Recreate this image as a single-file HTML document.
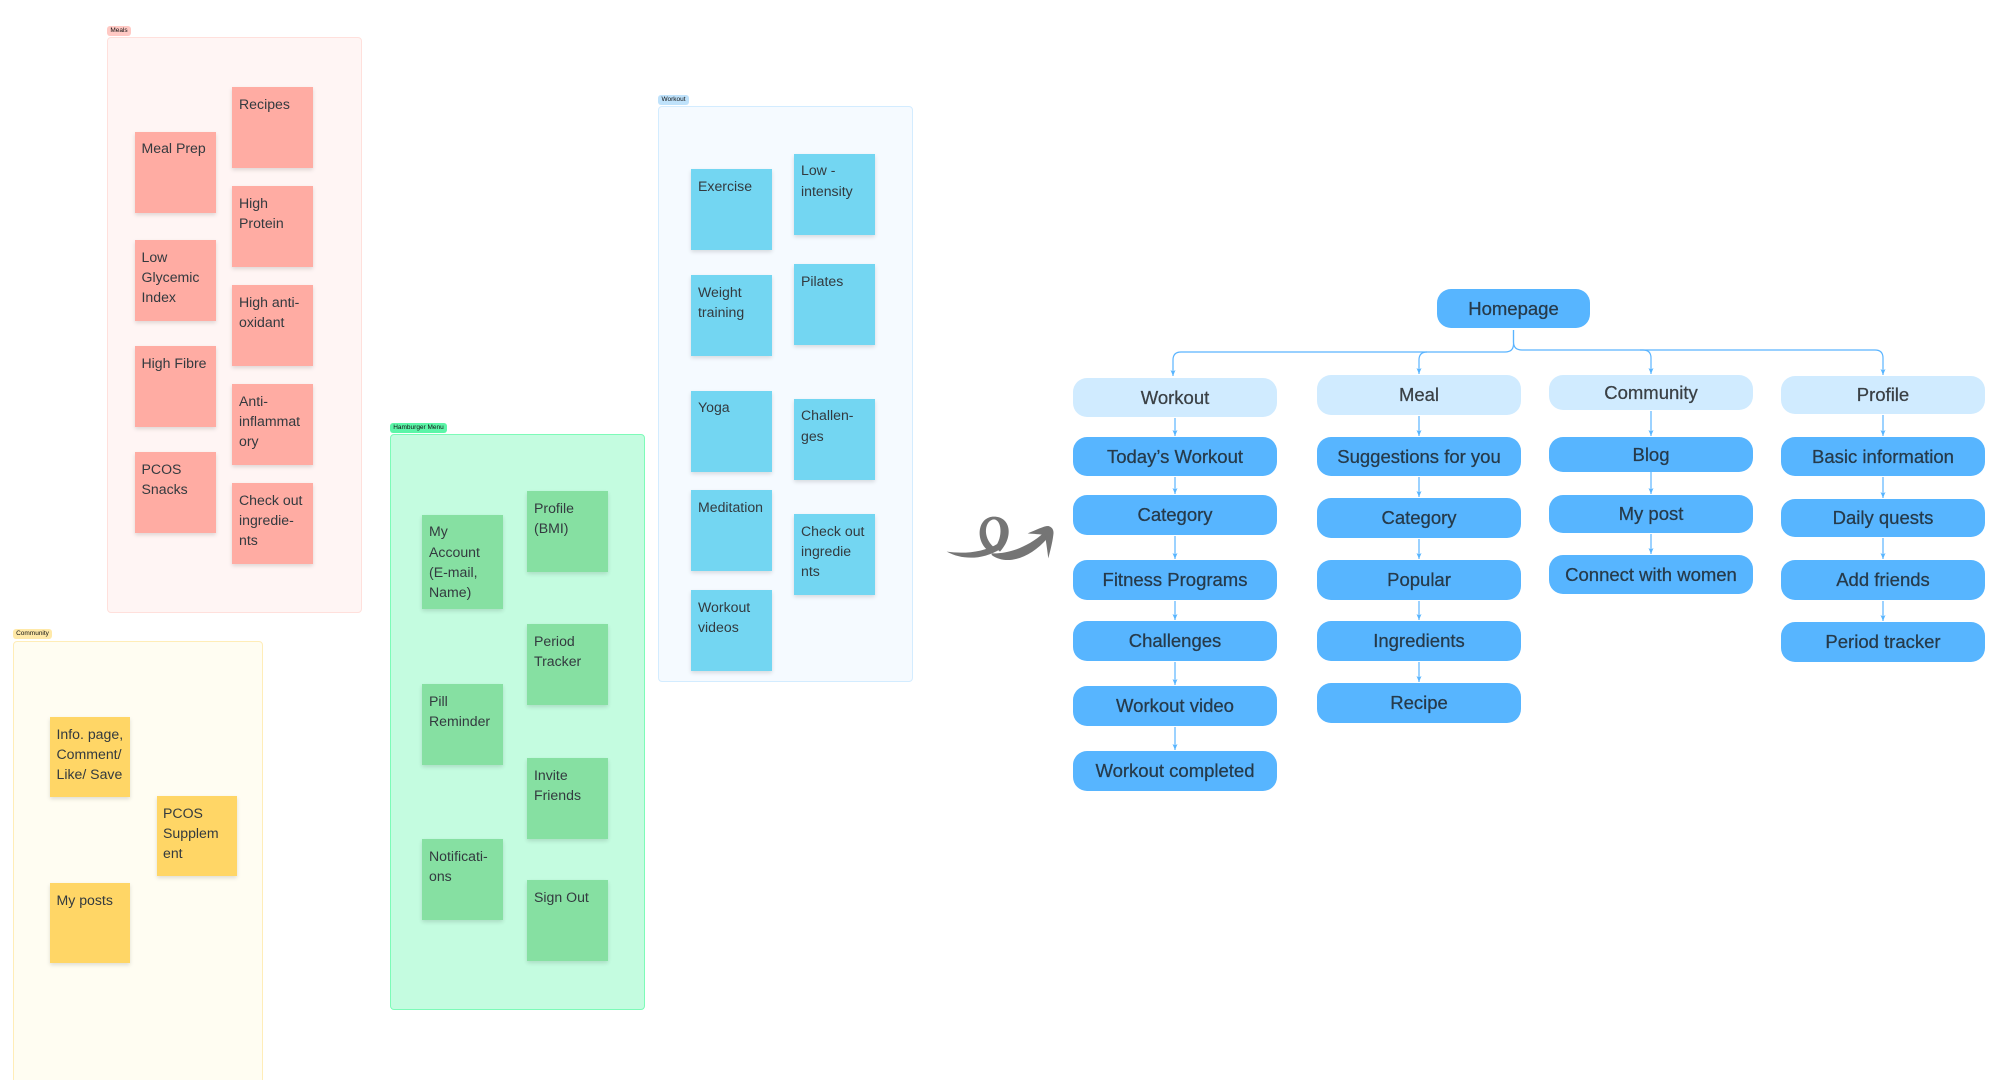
<!DOCTYPE html>
<html>
<head>
<meta charset="utf-8">
<style>
html,body{margin:0;padding:0;background:#fff;}
#p{position:relative;width:2000px;height:1080px;overflow:hidden;background:#fff;font-family:"Liberation Sans",sans-serif;}
.f{position:absolute;box-sizing:border-box;border-radius:4px;border-width:1.5px;border-style:solid;}
.l{position:absolute;font-size:6.5px;line-height:10px;height:10px;border-radius:3px;text-align:center;color:#111;}
.s{position:absolute;box-sizing:border-box;width:81px;height:81px;padding:6.6px 7px;font-size:14.1px;line-height:20.4px;color:#333a3f;box-shadow:0 2px 4px rgba(0,0,0,.13);white-space:pre;}
.r{background:#ffaca3}.y{background:#ffd666;width:80px;height:80px;padding:6.6px 6.5px}.g{background:#86e0a2}.b{background:#73d6f2}
.n{position:absolute;box-sizing:border-box;width:204px;border-radius:14px;background:#57b5ff;color:#263a4a;font-size:18.5px;text-align:center;display:flex;align-items:center;justify-content:center;-webkit-text-stroke:.25px #263a4a;}
.h{background:#d0ebff;color:#3a4045;-webkit-text-stroke:.25px #3a4045;}
svg{position:absolute;left:0;top:0;}
</style>
</head>
<body>
<div id="p">
<div class="f" style="left:107px;top:37px;width:255px;height:576px;background:#fff5f4;border-color:#ffe0dc"></div>
<div class="l" style="left:107px;top:26px;width:24px;background:#ffc9c4">Meals</div>
<div class="s r" style="left:232px;top:87px">Recipes</div>
<div class="s r" style="left:134.5px;top:131.5px">Meal Prep</div>
<div class="s r" style="left:232px;top:186px">High
Protein</div>
<div class="s r" style="left:134.5px;top:240px">Low
Glycemic
Index</div>
<div class="s r" style="left:232px;top:285px">High anti-
oxidant</div>
<div class="s r" style="left:134.5px;top:346px">High Fibre</div>
<div class="s r" style="left:232px;top:384px">Anti-
inflammat
ory</div>
<div class="s r" style="left:134.5px;top:452px">PCOS
Snacks</div>
<div class="s r" style="left:232px;top:483px">Check out
ingredie-
nts</div>

<div class="f" style="left:13px;top:641px;width:250px;height:460px;background:#fffdf2;border-color:#ffedb8"></div>
<div class="l" style="left:13px;top:629px;width:39px;background:#ffe9a8">Community</div>
<div class="s y" style="left:50px;top:717px">Info. page,
Comment/
Like/ Save</div>
<div class="s y" style="left:156.5px;top:796px">PCOS
Supplem
ent</div>
<div class="s y" style="left:50px;top:883px">My posts</div>

<div class="f" style="left:390px;top:434px;width:255px;height:576px;background:#c4fce0;border-color:#7dfbb8"></div>
<div class="l" style="left:390px;top:423px;width:57px;background:#5cf5a8">Hamburger Menu</div>
<div class="s g" style="left:422px;top:514.5px;height:94px">My
Account
(E-mail,
Name)</div>
<div class="s g" style="left:527px;top:491px">Profile
(BMI)</div>
<div class="s g" style="left:527px;top:624px">Period
Tracker</div>
<div class="s g" style="left:422px;top:684px">Pill
Reminder</div>
<div class="s g" style="left:527px;top:758px">Invite
Friends</div>
<div class="s g" style="left:422px;top:839px">Notificati-
ons</div>
<div class="s g" style="left:527px;top:880px">Sign Out</div>

<div class="f" style="left:658px;top:106px;width:255px;height:576px;background:#f5faff;border-color:#d3ecff"></div>
<div class="l" style="left:658px;top:95px;width:31px;background:#bfe2fb">Workout</div>
<div class="s b" style="left:691px;top:169px">Exercise</div>
<div class="s b" style="left:794px;top:153.5px">Low -
intensity</div>
<div class="s b" style="left:691px;top:275px">Weight
training</div>
<div class="s b" style="left:794px;top:264px">Pilates</div>
<div class="s b" style="left:691px;top:390.5px">Yoga</div>
<div class="s b" style="left:794px;top:398.5px">Challen-
ges</div>
<div class="s b" style="left:691px;top:490px">Meditation</div>
<div class="s b" style="left:794px;top:514px">Check out
ingredie
nts</div>
<div class="s b" style="left:691px;top:590px">Workout
videos</div>

<svg width="2000" height="1080" viewBox="0 0 2000 1080">
<defs><marker id="a" markerWidth="7" markerHeight="5" refX="6" refY="2.5" orient="auto" markerUnits="userSpaceOnUse"><path d="M0,0 L6,2.5 L0,5 L1.5,2.5Z" fill="#57b5ff"/></marker></defs>
<g fill="none" stroke="#5ab4ff" stroke-width="1.2" marker-end="url(#a)">
<path d="M1513.5 330 V344 Q1513.5 352 1505 352 H1181 Q1173 352 1173 360 V376"/>
<path d="M1427 352 Q1419 352 1419 360 V374"/>
<path d="M1513.5 330 V342 Q1513.5 350 1522 350 H1643 Q1651 350 1651 358 V374"/>
<path d="M1640 350 H1875 Q1883 350 1883 358 V375"/>
<path d="M1175 418 V436"/><path d="M1175 477 V494"/><path d="M1175 536 V559"/><path d="M1175 601 V620"/><path d="M1175 662 V685"/><path d="M1175 727 V750"/>
<path d="M1419 416 V436"/><path d="M1419 477 V497"/><path d="M1419 539 V559"/><path d="M1419 601 V620"/><path d="M1419 662 V682"/>
<path d="M1651 411 V436"/><path d="M1651 472 V494"/><path d="M1651 534 V554"/>
<path d="M1883 415 V436"/><path d="M1883 477 V498"/><path d="M1883 538 V559"/><path d="M1883 601 V621"/>
</g>
<g transform="translate(920 490) scale(.3333)" fill="#757575">
<path d="M80,185 C130,192 190,188 235,160 L240,178 C190,208 130,212 80,185Z"/>
<path d="M200,178 C165,145 175,80 222,80 C272,80 282,140 240,185 L225,172 C250,140 245,90 222,88 C195,90 185,140 222,172 Z"/>
<path d="M215,190 C260,192 320,175 372,128 L382,145 C330,205 260,228 215,195Z"/>
<path d="M323,130 C350,120 370,108 385,108 C400,112 402,125 400,135 C397,160 390,185 385,205 C382,180 378,155 375,135 C360,132 340,132 323,130Z"/>
</g>
</svg>

<div class="n" style="left:1437px;top:289px;width:153px;height:39px">Homepage</div>

<div class="n h" style="left:1073px;top:378px;height:39px">Workout</div>
<div class="n" style="left:1073px;top:437px;height:39px">Today’s Workout</div>
<div class="n" style="left:1073px;top:495px;height:40px">Category</div>
<div class="n" style="left:1073px;top:560px;height:40px">Fitness Programs</div>
<div class="n" style="left:1073px;top:621px;height:40px">Challenges</div>
<div class="n" style="left:1073px;top:686px;height:40px">Workout video</div>
<div class="n" style="left:1073px;top:751px;height:40px">Workout completed</div>

<div class="n h" style="left:1317px;top:375px;height:40px">Meal</div>
<div class="n" style="left:1317px;top:437px;height:39px">Suggestions for you</div>
<div class="n" style="left:1317px;top:498px;height:40px">Category</div>
<div class="n" style="left:1317px;top:560px;height:40px">Popular</div>
<div class="n" style="left:1317px;top:621px;height:40px">Ingredients</div>
<div class="n" style="left:1317px;top:683px;height:40px">Recipe</div>

<div class="n h" style="left:1549px;top:375px;height:35px">Community</div>
<div class="n" style="left:1549px;top:437px;height:35px">Blog</div>
<div class="n" style="left:1549px;top:495px;height:38px">My post</div>
<div class="n" style="left:1549px;top:555px;height:39px">Connect with women</div>

<div class="n h" style="left:1781px;top:376px;height:38px">Profile</div>
<div class="n" style="left:1781px;top:437px;height:39px">Basic information</div>
<div class="n" style="left:1781px;top:499px;height:38px">Daily quests</div>
<div class="n" style="left:1781px;top:560px;height:40px">Add friends</div>
<div class="n" style="left:1781px;top:622px;height:40px">Period tracker</div>
</div>
</body>
</html>
